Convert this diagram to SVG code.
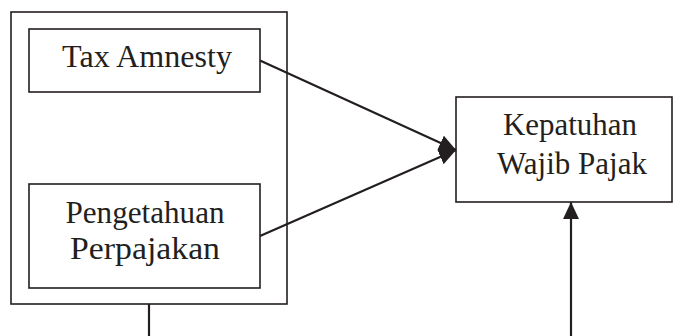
<svg xmlns="http://www.w3.org/2000/svg" width="673" height="336" viewBox="0 0 673 336">
<defs>
<style>
.box{fill:#fff;stroke:#231f20;stroke-width:1.6}
.outer{fill:none;stroke:#231f20;stroke-width:1.6}
.lbl{font-family:"Liberation Serif","Times New Roman",serif;font-size:31px;fill:#231f20;text-anchor:middle}
.conn{fill:none;stroke:#231f20;stroke-width:2.2}
</style>
<marker id="ah" markerUnits="userSpaceOnUse" markerWidth="20" markerHeight="18" refX="17" refY="8" orient="auto">
<path d="M0,0 L17,8 L0,16 Z" fill="#231f20"/>
</marker>
</defs>
<rect width="673" height="336" fill="#fff"/>
<g id="group-box">
<rect class="outer" x="11" y="12" width="276" height="292"/>
</g>
<g id="node-tax-amnesty">
<rect class="box" x="29" y="29" width="231" height="63"/>
<text class="lbl" x="147" y="67" textLength="170" lengthAdjust="spacingAndGlyphs">Tax Amnesty</text>
</g>
<g id="node-pengetahuan">
<rect class="box" x="29" y="184" width="231" height="104"/>
<text class="lbl" x="145" y="223" textLength="159" lengthAdjust="spacingAndGlyphs">Pengetahuan</text>
<text class="lbl" x="145" y="259" textLength="150" lengthAdjust="spacingAndGlyphs">Perpajakan</text>
</g>
<g id="node-kepatuhan">
<rect class="box" x="456" y="97" width="216" height="105"/>
<text class="lbl" x="570" y="135" textLength="134" lengthAdjust="spacingAndGlyphs">Kepatuhan</text>
<text class="lbl" x="572" y="174" textLength="150" lengthAdjust="spacingAndGlyphs">Wajib Pajak</text>
</g>
<g id="connectors">
<line class="conn" x1="260" y1="60.5" x2="456" y2="150" marker-end="url(#ah)"/>
<line class="conn" x1="260" y1="236" x2="456" y2="150" marker-end="url(#ah)"/>
<line class="conn" x1="149" y1="304" x2="149" y2="336"/>
<line class="conn" x1="571" y1="336" x2="571" y2="202" marker-end="url(#ah)"/>
</g>
</svg>
